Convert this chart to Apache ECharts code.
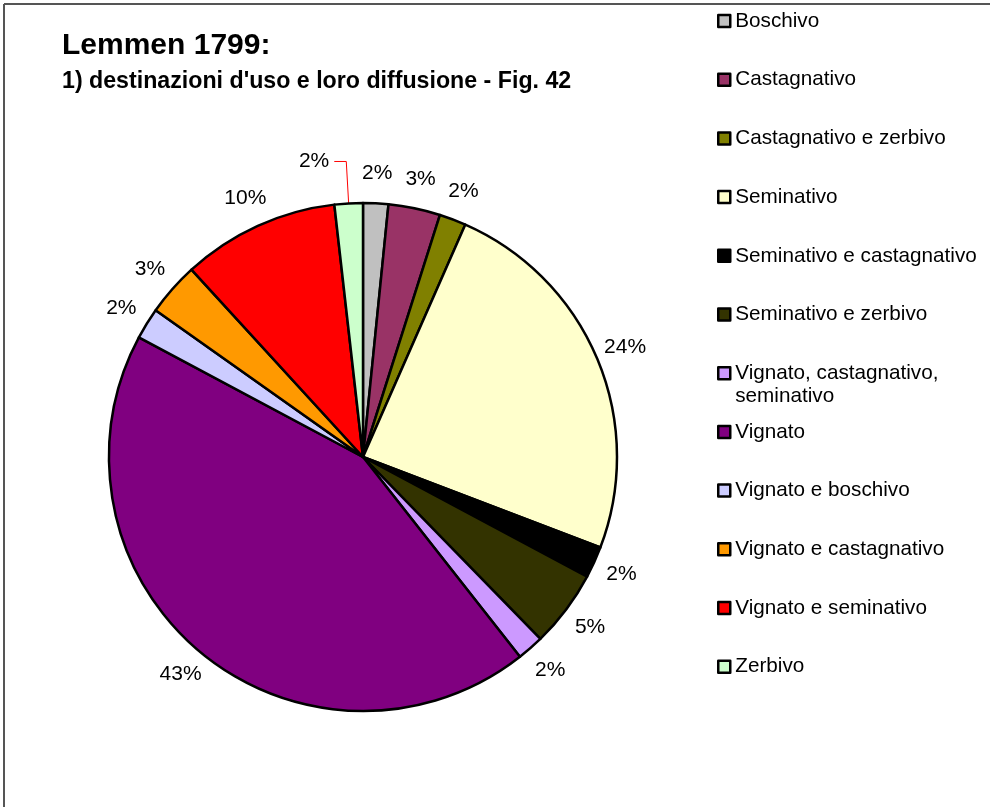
<!DOCTYPE html>
<html>
<head>
<meta charset="utf-8">
<script src="https://cdn.jsdelivr.net/npm/echarts@6/dist/echarts.min.js"></script>
<style>
  html, body { margin: 0; padding: 0; background: #fff; }
  #chart { width: 994px; height: 807px; }
</style>
</head>
<body>
<div id="chart"></div>
<script>
// Land-use categories, Lemmen 1799
const categories = [
  'Boschivo',
  'Castagnativo',
  'Castagnativo e zerbivo',
  'Seminativo',
  'Seminativo e castagnativo',
  'Seminativo e zerbivo',
  'Vignato, castagnativo, seminativo',
  'Vignato',
  'Vignato e boschivo',
  'Vignato e castagnativo',
  'Vignato e seminativo',
  'Zerbivo'
];
// Share of each use (percent of total)
const values = [1.6, 3.3, 1.7, 24.2, 2.0, 4.9, 1.7, 43.4, 2.0, 3.4, 10.0, 1.8];
const colors = [
  '#C0C0C0', '#993366', '#808000', '#FFFFCC', '#000000', '#333300',
  '#CC99FF', '#800080', '#CCCCFF', '#FF9900', '#FF0000', '#CCFFCC'
];
const titleText = 'Lemmen 1799:';
const subtitleText = "1) destinazioni d'uso e loro diffusione - Fig. 42";

const FONT = '"Liberation Sans", Arial, sans-serif';
const CX = 363, CY = 457, R = 254, LABEL_R = 284;
const LEADER_INDEX = categories.indexOf('Zerbivo');

// mid-angle of each slice (clockwise from 12 o'clock)
const total = values.reduce((a, b) => a + b, 0);
const midAngles = [];
let acc = 0;
values.forEach(v => {
  midAngles.push((acc + v / 2) / total * Math.PI * 2);
  acc += v;
});

const chart = echarts.init(document.getElementById('chart'), null, { renderer: 'canvas' });

// one legend block per entry, evenly spaced down the right side
const LEG_FIRST = 21, LEG_STEP = 58.7, LINE_H = 23;
const legends = categories.map((name, i) => {
  const multi = name === 'Vignato, castagnativo, seminativo';
  const centerY = LEG_FIRST + LEG_STEP * i;
  return {
    orient: 'vertical',
    left: 717,
    top: multi ? centerY - LINE_H * 1.5 : centerY - LINE_H / 2,
    padding: 0,
    itemWidth: 12,
    itemHeight: 12,
    icon: 'rect',
    selectedMode: false,
    data: [name],
    itemStyle: { borderColor: '#000', borderWidth: 2.5 },
    formatter: multi ? () => '\nVignato, castagnativo,\nseminativo' : '{name}',
    textStyle: { fontSize: 20.7, fontFamily: FONT, color: '#000', lineHeight: LINE_H }
  };
});

const data = categories.map((name, i) => {
  const item = { name: name, value: values[i], itemStyle: { color: colors[i] } };
  if (i === LEADER_INDEX) {
    item.labelLine = { show: true, length: 42, length2: 12, lineStyle: { color: '#FF0000', width: 1 } };
  }
  return item;
});

chart.setOption({
  backgroundColor: '#fff',
  animation: false,
  title: [
    {
      text: titleText, left: 62, top: 31, padding: 0,
      textStyle: { fontSize: 30, fontWeight: 'bold', fontFamily: FONT, color: '#000', lineHeight: 30 }
    },
    {
      text: subtitleText, left: 62, top: 70, padding: 0,
      textStyle: { fontSize: 23.2, fontWeight: 'bold', fontFamily: FONT, color: '#000', lineHeight: 23 }
    }
  ],
  legend: legends,
  graphic: [
    { type: 'line', shape: { x1: 4, y1: 4, x2: 990, y2: 4 }, style: { stroke: '#555', lineWidth: 2 }, silent: true },
    { type: 'line', shape: { x1: 4, y1: 4, x2: 4, y2: 807 }, style: { stroke: '#555', lineWidth: 2 }, silent: true }
  ],
  series: [{
    type: 'pie',
    center: [CX, CY],
    radius: R,
    startAngle: 90,
    clockwise: true,
    percentPrecision: 0,
    avoidLabelOverlap: false,
    emphasis: { disabled: true },
    itemStyle: { borderColor: '#000', borderWidth: 2.5 },
    label: {
      show: true,
      position: 'outside',
      formatter: '{d}%',
      fontSize: 21,
      fontFamily: FONT,
      color: '#000',
      distanceToLabelLine: 5
    },
    labelLine: { show: false, length: 10, length2: 5 },
    labelLayout: function (p) {
      if (p.dataIndex === LEADER_INDEX) return {};
      const a = midAngles[p.dataIndex];
      return {
        x: CX + LABEL_R * Math.sin(a),
        y: CY - LABEL_R * Math.cos(a),
        align: 'center',
        verticalAlign: 'middle'
      };
    },
    data: data
  }]
});
</script>
</body>
</html>
